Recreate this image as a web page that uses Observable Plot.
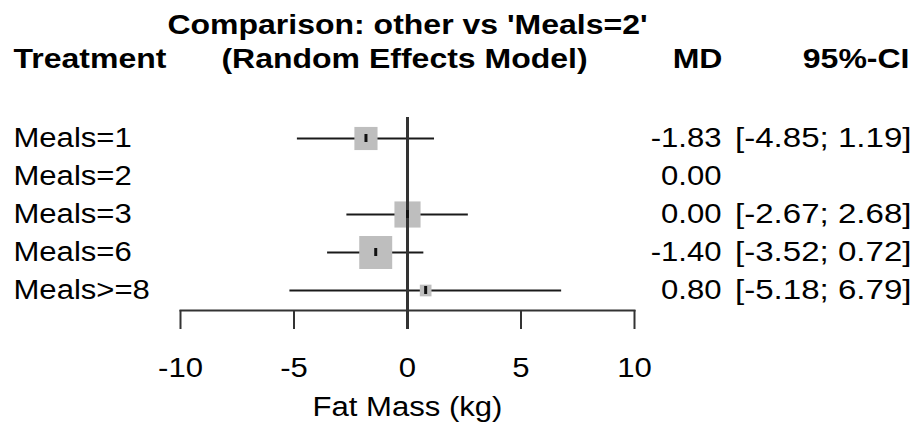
<!DOCTYPE html>
<html>
<head>
<meta charset="utf-8">
<script src="https://cdn.jsdelivr.net/npm/d3@7"></script>
<script src="https://cdn.jsdelivr.net/npm/@observablehq/plot@0.6"></script>
<style>
  body { margin: 0; background: #fff; }
  svg text { font-family: "Liberation Sans", Arial, Helvetica, sans-serif; }
</style>
</head>
<body>
<script>
// ---- data ----
const treatments = ["Meals=1", "Meals=2", "Meals=3", "Meals=6", "Meals>=8"];
const md        = [-1.83, 0.00, 0.00, -1.40, 0.80];
const ciLower   = [-4.85, null, -2.67, -3.52, -5.18];
const ciUpper   = [ 1.19, null,  2.68,  0.72,  6.79];
const xTicks    = [-10, -5, 0, 5, 10];
const titleText = "Comparison: other vs 'Meals=2'";
const headerLeft = "Treatment";
const headerMid  = "(Random Effects Model)";
const headerMD   = "MD";
const headerCI   = "95%-CI";
const xLabel     = "Fat Mass (kg)";

// inverse-variance weight from the CI (square area ∝ weight)
const rows = treatments.map((name, i) => ({
  name, md: md[i], lo: ciLower[i], hi: ciUpper[i],
  w: ciLower[i] == null ? null : (3.92 / (ciUpper[i] - ciLower[i])) ** 2
}));
const withCI = rows.filter(d => d.lo != null);

const fmtCI = d => `[${d.lo.toFixed(2)}; ${d.hi.toFixed(2)}]`;

const FS = 27;
const FONT = '"Liberation Sans", Arial, Helvetica, sans-serif';
const STRETCH = 1.15, STRETCH_BOLD = 1.185, STRETCH_CI = 1.225;

const chart = Plot.plot({
  width: 915,
  height: 425,
  marginLeft: 180,
  marginRight: 281,
  marginTop: 117,
  marginBottom: 115,
  style: { fontFamily: FONT, fontSize: FS + "px", background: "#fff", color: "#000" },
  x: { domain: [-10, 10] },
  y: { type: "band", domain: treatments, range: [118.8, 308.8], padding: 0, axis: null },
  r: { range: [0, 18.6] },
  marks: [
    Plot.ruleY(withCI, { y: "name", x1: "lo", x2: "hi", stroke: "#1a1a1a", strokeWidth: 2.2 }),
    Plot.dot(withCI, { x: "md", y: "name", r: "w", symbol: "square", fill: "#bebebe", stroke: "none" }),
    Plot.ruleX([0], { stroke: "#333", strokeWidth: 3, insetBottom: -19 }),
    Plot.tickX(withCI, { x: "md", y: "name", stroke: "#111", strokeWidth: 3, insetTop: 15, insetBottom: 15 }),
    Plot.frame({ anchor: "bottom", stroke: "#333", strokeWidth: 2 }),
    Plot.axisX({ ticks: xTicks, tickFormat: d => String(d), tickSize: 19, tickPadding: 28,
                 stroke: "#333", strokeWidth: 2, fill: "#000", label: null, fontSize: FS }),
    Plot.text([xLabel], { text: d => d, frameAnchor: "bottom", dy: 97, lineAnchor: "middle",
                          fontSize: FS, fill: "#000" }),
    // row labels and values
    Plot.text(rows, { y: "name", text: "name", frameAnchor: "left", textAnchor: "start",
                      dx: -167, fontSize: FS, fill: "#000" }),
    Plot.text(rows, { y: "name", text: d => d.md.toFixed(2), frameAnchor: "right", textAnchor: "end",
                      dx: 87, fontSize: FS, fill: "#000" }),
    Plot.text(withCI, { y: "name", text: fmtCI,
                        frameAnchor: "right", textAnchor: "end", dx: 277, fontSize: FS, fill: "#000" }),
    // headers
    Plot.text([titleText], { text: d => d, frameAnchor: "top", dy: -92.5, lineAnchor: "middle",
                             fontSize: FS, fontWeight: "bold", fill: "#000" }),
    Plot.text([headerLeft], { text: d => d, frameAnchor: "top-left", textAnchor: "start", dx: -167,
                              dy: -58.5, lineAnchor: "middle", fontSize: FS, fontWeight: "bold", fill: "#000" }),
    Plot.text([headerMid], { text: d => d, frameAnchor: "top", dx: -3, dy: -58.5, lineAnchor: "middle",
                             fontSize: FS, fontWeight: "bold", fill: "#000" }),
    Plot.text([headerMD], { text: d => d, frameAnchor: "top-right", textAnchor: "end", dx: 88,
                            dy: -58.5, lineAnchor: "middle", fontSize: FS, fontWeight: "bold", fill: "#000" }),
    Plot.text([headerCI], { text: d => d, frameAnchor: "top-right", textAnchor: "end", dx: 275,
                            dy: -58.5, lineAnchor: "middle", fontSize: FS, fontWeight: "bold", fill: "#000" })
  ]
});

document.body.append(chart);

// the reference's lettering is horizontally wide; stretch each text to match
chart.querySelectorAll("text").forEach(t => {
  const L = t.getComputedTextLength();
  if (L > 0) {
    const fw = getComputedStyle(t).fontWeight;
    const bold = fw === "bold" || +fw >= 600;
    const k = bold ? STRETCH_BOLD : (t.textContent.startsWith("[") ? STRETCH_CI : STRETCH);
    t.setAttribute("textLength", (L * k).toFixed(1));
    t.setAttribute("lengthAdjust", "spacingAndGlyphs");
  }
});
</script>
</body>
</html>
